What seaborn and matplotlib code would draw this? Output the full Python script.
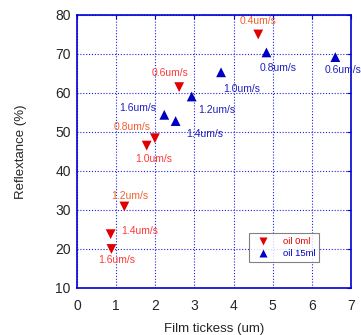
import pandas as pd
import seaborn as sns
import matplotlib.pyplot as plt

# oil 0ml (red, down triangles)
x0 = [0.88, 0.86, 1.21, 1.78, 1.99, 2.61, 4.63]
y0 = [20.0, 23.8, 30.9, 46.5, 48.4, 61.5, 75.0]
# oil 15ml (blue, up triangles)
x15 = [2.23, 2.52, 2.93, 3.68, 4.84, 6.60]
y15 = [54.4, 52.8, 59.1, 65.3, 70.4, 69.2]

# speed labels
lab0 = ['1.6um/s', '1.4um/s', '1.2um/s', '1.0um/s', '0.8um/s', '0.6um/s', '0.4um/s']
lab0_x = [1.01, 1.61, 1.36, 1.97, 1.41, 2.38, 4.63]
lab0_y = [17.3, 24.7, 33.7, 43.0, 51.4, 65.0, 78.5]
lab0_c = ['#ff3a3a', '#ff3a3a', '#f06030', '#ff3a3a', '#f06030', '#ff3a3a', '#f06030']

lab15 = ['1.6um/s', '1.4um/s', '1.2um/s', '1.0um/s', '0.8um/s', '0.6um/s']
lab15_x = [1.56, 3.27, 3.57, 4.21, 5.14, 6.80]
lab15_y = [56.1, 49.4, 55.6, 61.0, 66.5, 65.9]

df = pd.DataFrame({
    'x': x0 + x15,
    'y': y0 + y15,
    'series': ['oil 0ml'] * len(x0) + ['oil 15ml'] * len(x15),
})

sns.set_style('white')
plt.rcParams['font.family'] = ['Liberation Sans', 'DejaVu Sans']

fig = plt.figure(figsize=(3.61, 3.35), dpi=100)
ax = fig.add_axes([0.2133, 0.1403, 0.759, 0.815])

sns.scatterplot(data=df, x='x', y='y', hue='series', style='series',
                markers={'oil 0ml': 'v', 'oil 15ml': '^'},
                palette={'oil 0ml': '#e00000', 'oil 15ml': '#0000c0'},
                s=50, edgecolor='none', ax=ax)

for t, xx, yy, c in zip(lab0, lab0_x, lab0_y, lab0_c):
    ax.text(xx, yy, t, color=c, fontsize=7.5, ha='center', va='center')
for t, xx, yy in zip(lab15, lab15_x, lab15_y):
    ax.text(xx, yy, t, color='#2020c0', fontsize=7.5, ha='center', va='center')

ax.set_xlim(0, 7)
ax.set_ylim(10, 80)
ax.set_xticks(range(0, 8))
ax.set_yticks(range(10, 81, 10))
ax.grid(True, color='#2020e0', linestyle=(0, (1, 1.6)), linewidth=0.8)
for sp in ax.spines.values():
    sp.set_color('#0000d0')
    sp.set_linewidth(1.2)
ax.tick_params(direction='in', length=3, color='#0000d0', top=True, right=True,
               labelsize=10)
ax.tick_params(axis='x', pad=8)
ax.tick_params(axis='y', pad=4.5)
ax.set_xlabel('Film tickess (um)', fontsize=9.5, labelpad=7)
ax.set_ylabel('Reflextance (%)', fontsize=9.5, labelpad=20)

leg = ax.legend(loc='upper left', bbox_to_anchor=(0.627, 0.2), fontsize=6.8,
                frameon=True, fancybox=False, edgecolor='#606060',
                handletextpad=1.0, borderpad=0.4, borderaxespad=0,
                labelspacing=0.3, handlelength=2.2, markerscale=0.9)
leg.get_frame().set_linewidth(0.8)
for txt, c in zip(leg.get_texts(), ['#e00000', '#0000c0']):
    txt.set_color(c)

fig.savefig('out.png', dpi=100)
